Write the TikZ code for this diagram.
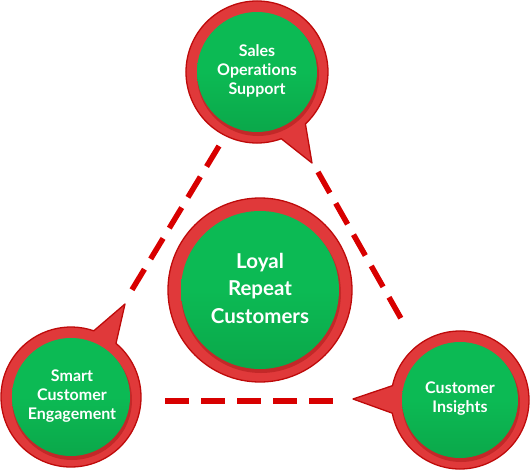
\documentclass[tikz,border=0pt]{standalone}
\usepackage{fontspec}
\setmainfont{Lato}[Ligatures={NoCommon}]
\usetikzlibrary{calc}
\definecolor{ringred}{HTML}{E0393A}
\definecolor{ringedge}{HTML}{BE0A0A}
\definecolor{shadowred}{HTML}{A81818}
\definecolor{leaf}{HTML}{0CBA54}
\definecolor{leafdark}{HTML}{0BA84A}
\definecolor{dashred}{HTML}{D80000}
\tikzset{
  bubble/.style={fill=ringred, draw=ringedge, line width=1.3pt, line join=round},
  inshadow/.style={fill=shadowred, opacity=0.5},
  leafdisc/.style={top color=leaf, bottom color=leafdark, middle color=leaf},
  lbl/.style={text=white, align=center, inner sep=0pt, font=\bfseries\fontsize{16}{19}\selectfont},
  biglbl/.style={text=white, align=center, inner sep=0pt, font=\bfseries\fontsize{20.5}{27.5}\selectfont},
  link/.style={draw=dashred, line width=5.5pt, dash pattern=on 24pt off 12pt}
}
\begin{document}
\begin{tikzpicture}[x=1pt,y=-1pt]
\useasboundingbox (0,0) rectangle (531,471);
% centres
\coordinate (T) at (257,72);
\coordinate (L) at (71,397);
\coordinate (R) at (460,400);
\coordinate (C) at (260,290);
% dashed link end points
\coordinate (tl1) at (219,146);
\coordinate (tl2) at (127,298);
\coordinate (tr1) at (318,172);
\coordinate (tr2) at (403,322);
\coordinate (lr1) at (165,401);
\coordinate (lr2) at (335,401);
\draw[link] (tl1) -- (tl2);
\draw[link] (tr1) -- (tr2);
\draw[link] (lr1) -- (lr2);
% top bubble
\path[bubble] ($(T)+(70:71)$) arc[start angle=70, end angle=407, radius=71] -- (312,163) -- cycle;
\fill[inshadow] ($(T)+(1,3)$) circle[radius=61];
\shade[leafdisc] (T) circle[radius=60];
% bottom-left bubble
\path[bubble] ($(L)+(-50:70)$) arc[start angle=-50, end angle=289, radius=70] -- (125,304) -- cycle;
\fill[inshadow] ($(L)+(1,3)$) circle[radius=60];
\shade[leafdisc] (L) circle[radius=59];
% bottom-right bubble
\path[bubble] ($(R)+(192:69)$) arc[start angle=192, end angle=529, radius=69] -- (353,399) -- cycle;
\fill[inshadow] ($(R)+(1,3)$) circle[radius=59];
\shade[leafdisc] (R) circle[radius=58];
% centre circle
\path[bubble] (C) circle[radius=92];
\fill[inshadow] ($(C)+(1,3)$) circle[radius=80];
\shade[leafdisc] (C) circle[radius=79];
% labels
\node[lbl] (sales) at (257,71) {Sales\\Operations\\Support};
\node[lbl] (smart) at (72,396) {Smart\\Customer\\Engagement};
\node[lbl] (insights) at (460,398.5) {Customer\\Insights};
\node[biglbl] (loyal) at (260,288) {Loyal\\Repeat\\Customers};
\end{tikzpicture}
\end{document}
